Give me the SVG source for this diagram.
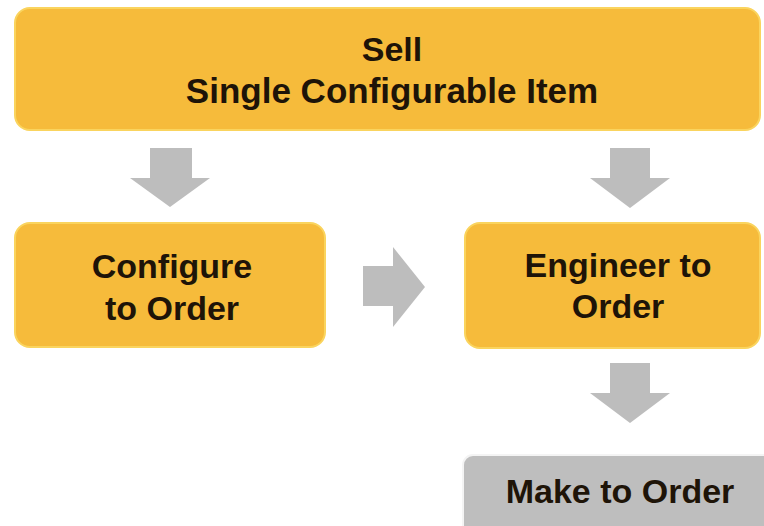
<svg xmlns="http://www.w3.org/2000/svg" width="764" height="526" viewBox="0 0 764 526">
<style>
.box{fill:#F6BB3B;stroke:#FAD45E;stroke-width:2}
.gray{fill:#BEBEBE;stroke:#F4F4F4;stroke-width:2}
.t{font-family:"Liberation Sans",Arial,sans-serif;font-weight:bold;font-size:34px;fill:#1E1408;text-anchor:middle}
.arr{fill:#BDBDBD}
</style>
<rect width="764" height="526" fill="#FFFFFF"/>
<g id="connectors">
<polygon class="arr" points="150,148 192,148 192,178 210,178 170,207 130,178 150,178"/>
<polygon class="arr" points="610,148 650,148 650,178 670,178 630,208 590,178 610,178"/>
<polygon class="arr" points="363,266 393,266 393,247 425,287 393,327 393,306 363,306"/>
<polygon class="arr" points="610,363 650,363 650,393 670,393 630,423 590,393 610,393"/>
</g>
<g id="sell">
<rect class="box" x="15" y="8" width="745" height="122" rx="15"/>
<text class="t" x="392" y="61" font-size="35">Sell</text>
<text class="t" x="392" y="103" style="font-size:35px">Single Configurable Item</text>
</g>
<g id="cto">
<rect class="box" x="15" y="223" width="310" height="124" rx="15"/>
<text class="t" x="172" y="278">Configure</text>
<text class="t" x="172" y="320">to Order</text>
</g>
<g id="eto">
<rect class="box" x="465" y="223" width="295" height="125" rx="15"/>
<text class="t" x="618" y="277">Engineer to</text>
<text class="t" x="618" y="318">Order</text>
</g>
<g id="mto">
<rect class="gray" x="463" y="455" width="320" height="90" rx="10"/>
<text class="t" x="620" y="503">Make to Order</text>
</g>
</svg>
